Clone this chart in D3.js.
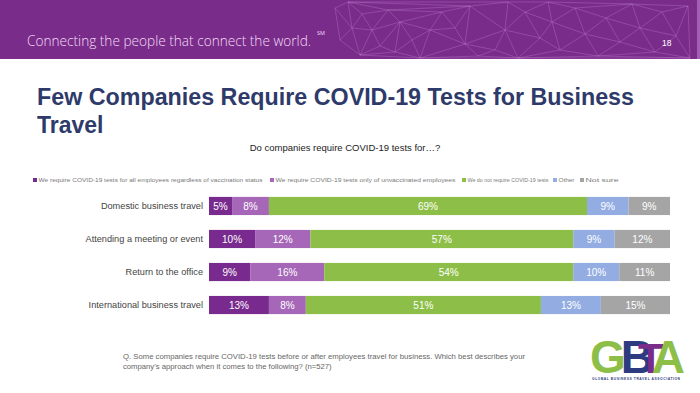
<!DOCTYPE html>
<html>
<head>
<meta charset="utf-8">
<script src="https://cdn.jsdelivr.net/npm/d3@7"></script>
<style>
  body { margin: 0; background: #fff; }
  svg { display: block; font-family: "Liberation Sans", Arial, sans-serif; }
</style>
</head>
<body>
<svg id="chart" width="700" height="393"></svg>
<script>
// data
const categories = ["Domestic business travel", "Attending a meeting or event", "Return to the office", "International business travel"];
const seriesNames = [
  "We require COVID-19 tests for all employees regardless of vaccination status",
  "We require COVID-19 tests only of unvaccinated employees",
  "We do not require COVID-19 tests",
  "Other",
  "Not sure"
];
const requireAll = [5, 10, 9, 13];
const requireUnvacc = [8, 12, 16, 8];
const notRequire = [69, 57, 54, 51];
const other = [9, 9, 10, 13];
const notSure = [9, 12, 11, 15];
const seriesColors = ["#792a8e", "#a667b8", "#8dbf48", "#93ade3", "#a5a5a5"];

// header mesh points (decoration only)
const meshPts = [
  [335,8],[348,2],[362,14],[352,28],[372,30],[388,10],[400,22],[380,46],[395,52],[412,40],[420,58],[430,30],[442,12],[455,28],[470,6],[465,44],[478,56],[340,40],[360,55],
  [495,50],[505,30],[518,58],[525,12],[540,38],[552,22],[560,50],[575,8],[585,34],[598,56],[606,18],[620,42],[632,4],[640,28],[655,52],[662,12],[676,36],[688,6],[690,58],[508,2],[548,2]
];

const svg = d3.select("#chart");

// header band
svg.append("rect").attr("x", 0).attr("y", 0).attr("width", 700).attr("height", 59).attr("fill", "#7a2c8b");
const del = d3.Delaunay.from(meshPts);
svg.append("path")
  .attr("d", del.render())
  .attr("fill", "none")
  .attr("stroke", "#c88fd6")
  .attr("stroke-opacity", 0.5)
  .attr("stroke-width", 0.6);
svg.append("rect").attr("x", 697).attr("y", 0).attr("width", 3).attr("height", 59).attr("fill", "#a35fb4");

svg.append("text")
  .attr("x", 27).attr("y", 46)
  .attr("font-family", "'Open Sans', sans-serif")
  .attr("font-weight", 300)
  .attr("font-size", 14)
  .attr("textLength", 284)
  .attr("lengthAdjust", "spacingAndGlyphs")
  .attr("fill", "#f1dcf3")
  .text("Connecting the people that connect the world.");
svg.append("text")
  .attr("x", 317).attr("y", 35)
  .attr("font-family", "'Open Sans', sans-serif")
  .attr("font-size", 5.5)
  .attr("fill", "#f1dcf3")
  .text("SM");
svg.append("text")
  .attr("x", 662).attr("y", 46)
  .attr("font-size", 8.5)
  .attr("fill", "#fff")
  .text("18");

// title
const title = svg.append("text")
  .attr("font-weight", "bold")
  .attr("font-size", 23)
  .attr("fill", "#2e3a69");
title.append("tspan").attr("x", 37).attr("y", 105)
  .attr("textLength", 597).attr("lengthAdjust", "spacingAndGlyphs")
  .text("Few Companies Require COVID-19 Tests for Business");
title.append("tspan").attr("x", 37).attr("y", 133).text("Travel");

svg.append("text")
  .attr("x", 345).attr("y", 151)
  .attr("text-anchor", "middle")
  .attr("font-size", 9.5)
  .attr("fill", "#222")
  .text("Do companies require COVID-19 tests for\u2026?");

// legend
const legendX = [33, 270, 462, 553, 580];
const legendW = [224, 180, 81, 16, 33];
const legend = svg.append("g").selectAll("g").data(seriesNames).join("g")
  .attr("transform", (d, i) => `translate(${legendX[i]},182)`);
legend.append("rect").attr("x", 0).attr("y", -4).attr("width", 4).attr("height", 4)
  .attr("fill", (d, i) => seriesColors[i]);
legend.append("text").attr("x", 5.5).attr("y", 0)
  .attr("font-size", 5.6).attr("fill", "#7a7a7a")
  .attr("textLength", (d, i) => legendW[i])
  .attr("lengthAdjust", "spacingAndGlyphs")
  .text(d => d);

// stacked bars
const rows = categories.map((c, i) => ({
  cat: c,
  s0: requireAll[i], s1: requireUnvacc[i], s2: notRequire[i], s3: other[i], s4: notSure[i]
}));
const keys = ["s0", "s1", "s2", "s3", "s4"];
const stack = d3.stack().keys(keys)(rows);

const x = d3.scaleLinear().domain([0, 100]).range([209, 670]);
const y = d3.scaleBand().domain(categories).range([187, 324]).paddingInner(0.45).paddingOuter(0.3);

const layers = svg.append("g").selectAll("g").data(stack).join("g")
  .attr("fill", (d, i) => seriesColors[i]);
layers.selectAll("rect").data(d => d).join("rect")
  .attr("x", d => x(d[0]))
  .attr("y", d => y(d.data.cat))
  .attr("width", d => x(d[1]) - x(d[0]))
  .attr("height", y.bandwidth());
layers.selectAll("text").data(d => d).join("text")
  .attr("x", d => (x(d[0]) + x(d[1])) / 2)
  .attr("y", d => y(d.data.cat) + y.bandwidth() / 2 + 3.6)
  .attr("text-anchor", "middle")
  .attr("font-size", 10)
  .attr("fill", "#fff")
  .text(d => (d[1] - d[0]) + "%");

// category axis
const yAxis = svg.append("g").attr("transform", "translate(203,0)")
  .call(d3.axisLeft(y).tickSize(0).tickPadding(0));
yAxis.select(".domain").remove();
yAxis.selectAll("text").attr("font-size", 9.2).attr("fill", "#444")
  .attr("font-family", "'Liberation Sans', Arial, sans-serif");

// footnote
const note = svg.append("text").attr("font-size", 7.7).attr("fill", "#666");
note.append("tspan").attr("x", 123).attr("y", 359)
  .attr("textLength", 402).attr("lengthAdjust", "spacingAndGlyphs")
  .text("Q. Some companies require COVID-19 tests before or after employees travel for business. Which best describes your");
note.append("tspan").attr("x", 123).attr("y", 369)
  .text("company\u2019s approach when it comes to the following? (n=527)");

// logo (letters overlap on purpose, as in the original mark)
const logo = svg.append("text").attr("x", 590).attr("y", 373)
  .attr("font-weight", "bold").attr("font-size", 46);
logo.append("tspan").attr("fill", "#8dbf48").text("G");
logo.append("tspan").attr("dx", -5).attr("fill", "#2d3b80").text("B");
logo.append("tspan").attr("dx", -16).attr("fill", "#7a2c8b").attr("font-size", 42).text("T");
logo.append("tspan").attr("dx", -12).attr("fill", "#8dbf48").text("A");
svg.append("text").attr("x", 592).attr("y", 380)
  .attr("font-size", 3.3).attr("font-weight", "bold").attr("fill", "#2d3b80")
  .attr("textLength", 88)
  .text("GLOBAL BUSINESS TRAVEL ASSOCIATION");
</script>
</body>
</html>
